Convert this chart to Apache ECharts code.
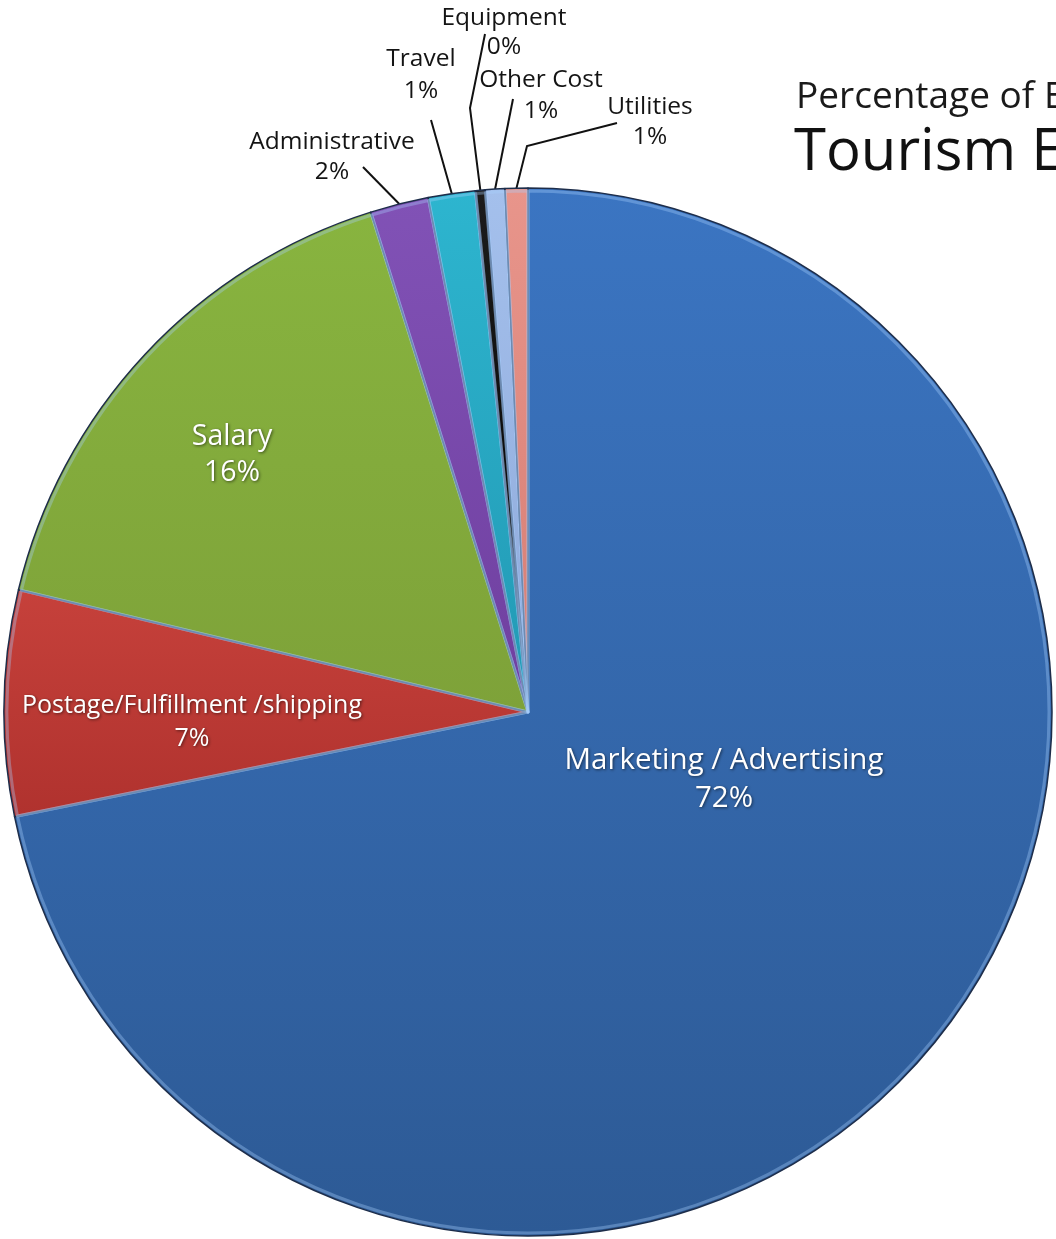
<!DOCTYPE html>
<html>
<head>
<meta charset="utf-8">
<title>Tourism Expenses</title>
<script src="https://cdn.jsdelivr.net/npm/echarts@6/dist/echarts.min.js"></script>
<style>
  html, body { margin: 0; padding: 0; background: #ffffff; }
  #chart { width: 1056px; height: 1239px; }
</style>
</head>
<body>
<div id="chart"></div>
<script>
// Expense categories, in clockwise order from twelve o'clock
const categories = [
  'Marketing / Advertising',
  'Postage/Fulfillment /shipping',
  'Salary',
  'Administrative',
  'Travel',
  'Equipment',
  'Other Cost',
  'Utilities'
];
// Share of the budget, in percent
const shares = [71.8, 6.95, 16.4, 1.8, 1.45, 0.3, 0.6, 0.7];

const titleLine1 = 'Percentage of Expenses';
const titleLine2 = 'Tourism Expenses';

const FONT = '"Open Sans", "Noto Sans", sans-serif';

// Slice fills: slightly lighter at the top, darker at the bottom
const sliceFill = [
  ['#3b75c2', '#2d5a95'],
  ['#c6413b', '#b0322e'],
  ['#88b43f', '#7ea239'],
  ['#8152b6', '#6f3f9f'],
  ['#2db5cf', '#2299b4'],
  ['#1c1c1c', '#000000'],
  ['#a4c0ec', '#8ea9da'],
  ['#e8958b', '#d67d73']
];

// Where each label sits, and how the outer leader lines bend
const labelSpots = [
  { x: 724, y: 780, size: 29.5, lh: 38, inside: true },
  { x: 192, y: 722, size: 25, lh: 33, inside: true },
  { x: 232, y: 455, size: 28.5, lh: 36, inside: true },
  { x: 332, y: 157, size: 24.5, lh: 30, via: null,       end: [363, 167] },
  { x: 421, y: 75,  size: 24.5, lh: 32, via: null,       end: [431, 120] },
  { x: 504, y: 33,  size: 24.5, lh: 29, via: [470, 108], end: [485, 34] },
  { x: 541, y: 96,  size: 24.5, lh: 31, via: null,       end: [513, 99] },
  { x: 650, y: 122, size: 24.5, lh: 30, via: [527, 146], end: [617, 123] }
];

const data = categories.map((name, i) => {
  const spot = labelSpots[i];
  const fill = sliceFill[i];
  return {
    name: name,
    value: shares[i],
    itemStyle: {
      color: {
        type: 'linear', x: 0, y: 0, x2: 0, y2: 1,
        colorStops: [{ offset: 0, color: fill[0] }, { offset: 1, color: fill[1] }]
      }
    },
    label: spot.inside ? {
      position: 'inside',
      color: '#ffffff',
      fontSize: spot.size,
      lineHeight: spot.lh,
      textShadowColor: 'rgba(0,0,0,0.55)',
      textShadowBlur: 3,
      textShadowOffsetX: 1,
      textShadowOffsetY: 1
    } : {
      position: 'outside',
      color: '#141414',
      fontSize: spot.size,
      lineHeight: spot.lh
    },
    labelLine: { show: !spot.inside }
  };
});

const chart = echarts.init(document.getElementById('chart'), null, { renderer: 'canvas' });

chart.setOption({
  backgroundColor: '#ffffff',
  animation: false,
  title: [
    {
      text: titleLine1,
      left: 796, top: 79, padding: 0,
      textStyle: { fontFamily: FONT, fontSize: 37, fontWeight: 'normal', color: '#1a1a1a' }
    },
    {
      text: titleLine2,
      left: 794, top: 124, padding: 0,
      textStyle: { fontFamily: FONT, fontSize: 58, fontWeight: 'normal', color: '#111111' }
    }
  ],
  series: [
    {
      type: 'pie',
      center: [528, 712],
      radius: [0, 524],
      startAngle: 90,
      clockwise: true,
      avoidLabelOverlap: false,
      silent: true,
      itemStyle: { borderColor: '#1d2d4a', borderWidth: 1.5 },
      label: {
        show: true,
        fontFamily: FONT,
        align: 'center',
        formatter: p => p.name + '\n' + Math.round(p.value) + '%'
      },
      labelLine: {
        show: true, length: 12, length2: 12, smooth: false,
        lineStyle: { color: '#111111', width: 2 }
      },
      labelLayout: function (params) {
        const spot = labelSpots[params.dataIndex];
        const out = { x: spot.x, y: spot.y, align: 'center', verticalAlign: 'middle' };
        if (!spot.inside && params.labelLinePoints) {
          const a = params.labelLinePoints[0];
          const mid = spot.via || [(a[0] + spot.end[0]) / 2, (a[1] + spot.end[1]) / 2];
          out.labelLinePoints = [[a[0], a[1]], mid, spot.end];
        }
        return out;
      },
      data: data
    },
    {
      // soft highlight just inside each slice edge
      type: 'pie',
      center: [528, 712],
      radius: [0, 521],
      startAngle: 90,
      clockwise: true,
      silent: true,
      label: { show: false },
      labelLine: { show: false },
      itemStyle: { color: 'rgba(0,0,0,0)', borderColor: 'rgba(170,210,255,0.35)', borderWidth: 3 },
      data: categories.map((name, i) => ({ name: name, value: shares[i] }))
    }
  ]
});
</script>
</body>
</html>
